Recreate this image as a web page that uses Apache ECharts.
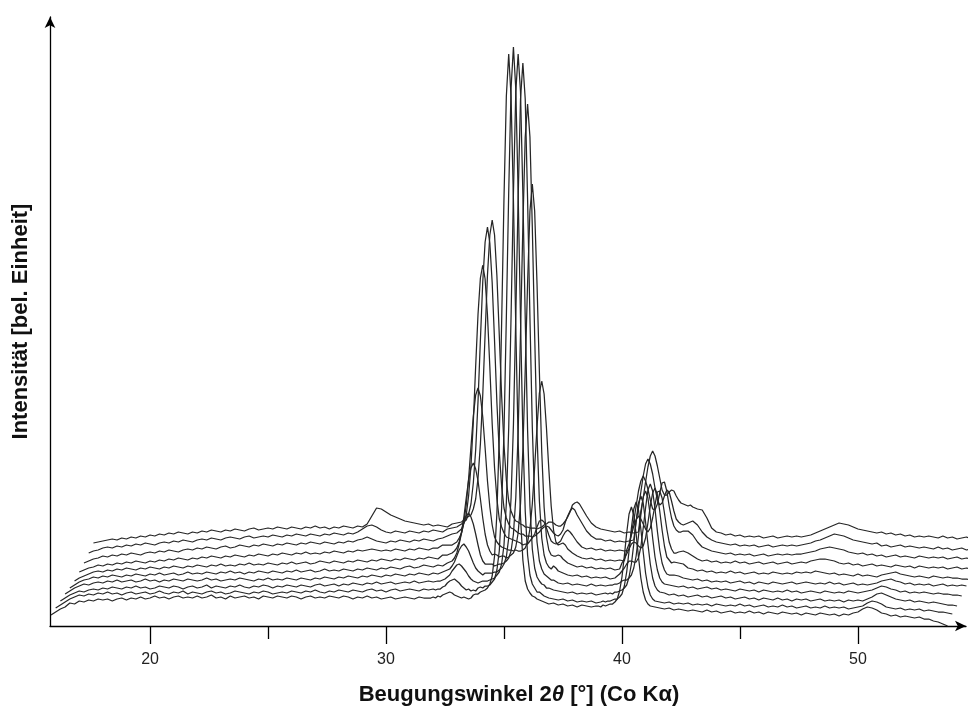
<!DOCTYPE html>
<html>
<head>
<meta charset="utf-8">
<script src="https://cdn.jsdelivr.net/npm/echarts@6/dist/echarts.min.js"></script>
<style>
html,body{margin:0;padding:0;background:#fff;}
#c{width:973px;height:712px;}
</style>
</head>
<body>
<div id="c"></div>
<script>
// 2-theta sample positions (raw, degrees)
const theta1 = [15.8,16,16.2,16.4,16.6,16.8,17,17.2,17.4,17.6,17.8,18,18.2,18.4,18.6,18.8,19,19.2,19.4,19.6,19.8,20,20.2,20.4,20.6,20.8,21,21.2,21.4,21.6,21.8,22,22.2,22.4,22.6,22.8,23,23.2,23.4,23.6,23.8,24,24.2,24.4,24.6,24.8,25,25.2,25.4,25.6,25.8,26,26.2,26.4,26.6,26.8,27,27.2,27.4,27.6,27.8,28,28.2,28.4,28.6,28.8,29,29.2,29.4,29.6,29.8,30,30.2,30.4,30.6,30.8,31,31.2,31.4,31.6,31.8];
const theta2 = [31.9,32,32.1,32.2,32.3,32.4,32.5,32.6,32.7,32.8,32.9,33,33.1,33.2,33.3,33.4,33.5,33.6,33.7,33.8,33.9,34,34.1,34.2,34.3,34.4,34.5,34.6,34.7,34.8,34.9,35,35.1,35.2,35.3,35.4,35.5,35.6,35.7,35.8,35.9,36,36.1,36.2,36.3,36.4,36.5];
const theta3 = [36.7,36.9,37.1,37.3,37.5,37.7,37.9,38.1,38.3,38.5,38.7,38.9];
const theta4 = [39,39.1,39.2,39.3,39.4,39.5,39.6,39.7,39.8,39.9,40,40.1,40.2,40.3,40.4,40.5,40.6,40.7,40.8,40.9,41,41.1,41.2];
const theta5 = [41.4,41.6,41.8,42,42.2,42.4,42.6,42.8,43,43.2,43.4,43.6,43.8,44,44.2,44.4,44.6,44.8,45,45.2,45.4,45.6,45.8,46,46.2,46.4,46.6,46.8,47,47.2,47.4,47.6,47.8,48,48.2,48.4,48.6,48.8,49,49.2,49.4,49.6,49.8,50,50.2,50.4,50.6,50.8,51,51.2,51.4,51.6,51.8,52,52.2,52.4,52.6,52.8,53,53.2,53.4,53.6,53.8];

// waterfall offsets of each pattern (bottom -> top)
const xShift = [0,0.2,0.4,0.6,0.8,1.0,1.2,1.4,1.6,1.8];
const yShift = [0,8,16,24,32,40,48,56,64,72];

// intensities (arbitrary units), bottom pattern first
const pattern0 = [11,14,17,19,23,22,25,24,26,25,27,26,27,25,27,28,26,28,27,29,27,28,30,28,29,27,29,30,28,29,28,30,28,29,31,28,29,27,30,28,29,30,28,29,27,30,29,28,30,29,28,30,29,27,29,30,28,29,28,30,29,28,30,29,27,29,28,30,28,29,27,28,29,27,28,29,28,27,29,28,28,
28,29,28,30,29,31,32,33,34,33,31,30,29,28,29,28,27,28,31,32,32,34,35,36,38,42,50,70,113,189,303,428,530,572,529,426,299,185,109,66,45,37,33,30,29,27,26,
24,22,23,21,22,20,21,19,21,20,19,20,
20,19,21,20,21,22,22,24,27,35,49,70,93,112,119,111,92,69,48,34,26,22,20,
19,18,17,18,16,17,16,15,16,15,14,16,14,15,13,14,15,13,14,13,15,13,14,12,14,13,12,14,13,12,13,11,13,12,11,13,12,11,12,10,12,11,13,14,17,19,18,16,13,12,10,11,9,10,9,8,9,7,7,5,4,2,0];
const pattern1 = [10,13,16,19,21,23,22,24,23,25,24,26,24,25,23,25,26,24,25,26,24,25,27,25,24,26,25,27,24,26,25,24,26,27,25,26,24,25,27,26,25,24,26,25,27,26,24,25,26,25,27,26,25,27,26,28,26,25,27,26,28,27,26,28,27,26,28,29,27,28,26,28,29,27,28,29,28,27,29,28,29,
28,29,29,31,32,35,37,38,39,37,35,32,30,28,29,27,28,27,30,31,30,32,32,33,36,39,48,67,110,186,301,426,530,571,529,425,299,183,107,63,43,34,30,26,26,24,22,
20,19,18,19,17,18,16,17,16,17,15,16,
17,16,17,17,18,19,19,21,24,32,46,67,90,109,116,108,89,66,45,31,23,19,17,
16,15,16,14,15,14,15,13,14,13,14,12,14,13,12,13,12,14,12,13,11,12,13,11,12,11,13,11,12,10,11,12,10,11,10,12,10,11,10,11,9,10,11,12,15,17,16,14,11,10,9,10,8,9,8,9,7,8,7,6,6,5,4];
const pattern2 = [9,12,15,17,19,18,20,21,20,22,21,23,22,21,23,22,24,22,23,21,22,24,23,22,24,23,21,23,24,22,23,25,22,24,23,22,24,23,25,23,22,24,23,25,24,22,24,23,25,24,23,25,24,23,25,26,24,25,26,24,26,25,27,26,25,27,26,28,26,27,28,26,27,28,27,29,27,28,29,28,29,
29,30,31,33,35,39,42,45,46,44,41,38,34,31,29,28,27,28,29,29,29,30,31,32,35,38,46,65,107,182,294,417,518,556,518,416,292,180,104,61,42,33,29,26,25,22,22,
20,19,18,17,18,16,17,16,17,15,16,17,
16,17,16,18,18,19,20,22,25,33,46,66,89,107,114,107,88,66,46,32,24,20,18,
17,15,16,14,15,13,14,15,13,14,12,13,14,12,13,11,12,13,11,12,10,12,11,10,12,10,11,9,11,10,11,9,10,11,9,10,9,10,8,10,9,10,9,11,13,16,17,15,13,11,10,9,10,8,9,8,7,8,7,6,5,5,4];
const pattern3 = [8,11,14,16,18,17,19,20,19,21,20,22,20,21,22,20,21,23,21,22,20,22,21,23,22,21,23,22,21,22,24,22,23,21,22,23,22,24,23,22,21,23,22,24,22,23,22,24,23,22,24,23,22,24,23,25,24,23,25,24,26,25,24,26,25,27,26,25,27,26,28,27,26,28,27,29,28,27,29,28,30,
31,32,33,36,40,46,52,56,58,55,51,45,39,34,31,29,27,29,29,29,29,30,30,32,34,38,45,64,104,177,286,404,503,539,503,403,284,175,101,60,41,33,28,26,24,22,22,
19,18,19,17,18,17,16,18,16,17,16,17,
17,18,18,19,21,22,22,24,27,34,46,66,87,105,111,104,86,64,45,32,24,20,18,
17,16,15,16,14,15,13,14,15,13,14,12,13,12,11,13,12,11,12,10,12,11,10,11,10,12,10,11,9,10,11,10,9,11,10,9,10,9,11,10,9,10,11,12,14,16,15,13,12,10,11,9,10,9,10,9,8,9,8,8,7,7,6];
const pattern4 = [6,9,12,14,15,17,16,18,17,19,18,17,19,18,20,19,18,20,19,21,19,20,21,19,20,22,20,21,20,22,21,20,22,21,23,21,22,20,22,21,23,22,21,23,22,21,23,22,24,22,23,24,22,23,25,23,24,23,25,24,23,25,24,26,25,24,26,25,27,26,25,27,28,26,27,29,28,27,29,28,31,
32,33,36,41,50,61,71,78,81,77,70,60,49,39,33,30,30,30,30,28,29,30,30,31,33,36,43,60,96,162,261,368,457,490,457,367,259,160,93,56,39,31,27,25,28,26,23,
21,19,18,19,17,18,16,17,16,17,15,16,
18,20,23,26,30,33,33,32,32,36,47,66,86,104,110,103,85,63,44,31,24,20,19,
19,18,16,15,14,15,13,14,12,13,12,13,11,12,13,11,12,10,12,11,10,12,11,10,11,12,10,11,12,11,10,11,10,12,10,11,9,10,11,9,10,9,10,11,13,14,15,13,12,10,11,9,10,9,10,8,9,10,8,9,8,9,8];
const pattern5 = [5,8,10,12,14,15,14,16,15,17,16,18,17,16,18,17,19,18,17,19,18,20,19,18,20,19,21,20,19,21,20,22,20,21,20,22,21,23,21,22,21,23,22,21,23,22,24,22,23,24,22,23,25,24,23,25,24,23,25,24,26,25,24,26,25,27,26,25,27,26,28,27,26,28,27,29,28,27,31,31,33,
35,38,44,54,69,88,106,118,123,117,105,87,68,52,41,35,31,32,31,29,30,30,28,29,31,33,39,53,82,136,216,303,375,402,375,302,214,134,79,49,36,31,30,30,31,30,27,
23,21,19,20,18,19,17,18,17,18,16,17,
23,27,32,37,42,44,43,40,38,40,48,63,80,93,98,91,75,56,40,29,26,23,24,
23,22,18,17,15,16,14,15,13,14,13,15,13,14,12,13,14,12,13,12,14,13,12,13,12,14,13,14,13,15,14,13,12,13,11,12,11,10,12,10,11,10,9,11,12,13,14,12,11,10,9,10,9,8,10,9,8,9,8,8,7,7,6];
const pattern6 = [6,8,10,11,13,12,14,13,15,14,16,15,17,16,15,17,16,18,17,19,18,20,19,18,20,19,21,20,22,21,20,22,21,23,22,21,23,22,24,23,22,24,23,25,24,23,25,24,26,24,25,24,26,25,27,26,25,27,26,28,27,28,29,28,27,28,27,29,28,27,29,28,30,29,28,30,30,33,33,33,36,
40,45,56,73,99,131,162,183,190,182,161,130,97,71,53,41,36,33,31,30,29,28,28,27,28,27,27,28,30,36,49,74,111,151,185,197,184,150,109,72,48,36,33,34,35,33,29,
25,22,20,19,20,18,19,17,18,17,18,17,
28,34,43,52,58,62,59,54,49,46,50,60,73,86,87,80,65,49,36,29,25,25,26,
27,25,22,19,17,18,16,17,15,16,15,17,15,16,14,15,16,14,15,16,14,15,16,14,15,16,15,17,18,19,19,18,17,15,14,15,13,14,12,13,14,12,13,12,11,13,12,11,12,10,12,11,10,11,10,11,9,10,11,9,10,9,8];
const pattern7 = [7,9,11,12,14,13,15,14,16,15,17,16,15,17,18,17,19,18,20,19,18,20,21,20,22,21,23,22,21,23,24,22,23,25,24,23,25,24,26,25,24,26,25,27,26,25,27,26,28,27,26,28,27,26,28,27,29,28,30,31,33,31,29,28,27,29,28,30,29,28,30,29,31,30,29,31,32,34,36,37,41,
47,55,74,104,148,204,256,292,305,291,255,203,146,102,71,51,43,37,33,32,31,30,29,28,27,25,26,26,29,32,36,43,49,50,48,42,35,29,27,26,27,29,34,38,40,38,35,
28,23,21,22,20,21,19,20,19,20,19,20,
38,49,64,79,89,94,89,81,70,61,60,66,77,87,88,79,64,52,44,40,38,38,39,
39,35,28,23,21,19,18,17,16,17,15,16,15,16,14,15,16,14,15,16,15,16,15,16,16,17,18,19,21,22,23,22,21,20,18,17,16,17,15,16,14,15,13,14,15,13,14,13,12,14,13,12,13,12,13,11,12,13,11,12,11,10,9];
const pattern8 = [9,11,12,14,15,14,16,15,17,16,18,17,19,18,17,19,20,19,21,20,22,21,20,22,23,22,24,23,22,24,25,24,23,25,26,24,25,26,25,27,26,25,27,26,28,27,26,28,27,26,28,27,29,28,27,29,28,30,33,36,37,35,32,30,29,31,30,29,31,30,29,31,30,32,31,30,33,34,35,38,42,
48,58,79,112,161,222,280,320,335,319,279,221,159,110,76,54,44,38,34,33,31,29,28,28,26,26,26,25,26,28,30,33,35,36,35,32,29,27,26,28,32,40,46,51,54,52,47,
39,31,26,23,23,21,22,20,21,20,21,22,
41,54,70,86,98,103,98,88,74,62,57,59,66,72,70,61,51,43,40,38,37,38,39,
41,37,30,25,22,20,19,18,17,18,16,17,16,17,15,16,17,15,16,17,16,17,16,17,18,19,21,22,24,26,28,27,26,24,22,21,20,19,18,19,16,17,15,16,17,15,16,15,14,15,14,13,15,13,14,12,13,14,12,13,12,11,10];
const pattern9 = [11,12,13,14,15,14,16,15,17,16,18,17,19,18,20,19,21,20,22,21,20,22,21,23,22,24,23,22,24,23,25,24,23,25,26,24,25,26,25,27,26,25,27,26,25,27,26,28,26,27,25,27,26,28,27,26,28,27,30,38,46,45,42,39,37,35,33,32,31,30,29,30,28,29,28,27,30,31,32,36,39,
45,55,76,110,159,220,279,319,334,319,278,219,158,109,74,53,43,37,33,32,30,29,27,27,26,26,26,25,26,27,29,30,32,32,31,29,28,28,30,33,37,42,49,51,52,50,46,
38,31,27,25,24,23,22,23,21,22,21,22,
43,56,72,87,98,103,98,88,76,64,59,59,62,64,63,58,54,51,50,49,48,49,47,
45,44,36,26,22,21,19,20,18,19,17,18,17,18,16,17,18,16,17,18,17,18,17,18,19,21,23,25,27,29,31,30,29,27,25,24,23,22,21,22,20,21,19,20,18,19,17,18,17,18,17,16,18,16,17,15,16,17,15,16,15,14,13];

const patterns = [pattern0,pattern1,pattern2,pattern3,pattern4,pattern5,pattern6,pattern7,pattern8,pattern9];

const majorTicks = [20,30,40,50];
const minorTicks = [25,35,45];

const theta = theta1.concat(theta2, theta3, theta4, theta5);
patterns.forEach((p,k)=>{ if(p.length!==theta.length) console.error('pattern'+k+' length '+p.length+' vs '+theta.length); });

const FONT = '"Liberation Sans", Arial, Helvetica, sans-serif';
const X_MIN = 15.76, X_MAX = 54.58, Y_MIN = 0, Y_MAX = 609;

const series = patterns.map((p,k)=>({
  type:'line',
  data: theta.map((t,i)=>[t + xShift[k], p[i] + yShift[k]]),
  showSymbol:false, symbol:'none', clip:false, silent:true,
  lineStyle:{color:'#262626', width:1.25},
  z: 2
}));

const chart = echarts.init(document.getElementById('c'), null, {renderer:'canvas'});
chart.setOption({
  animation:false,
  backgroundColor:'#ffffff',
  grid:{left:50, right:7, top:17, bottom:86, containLabel:false},
  xAxis:[{
    type:'value', min:X_MIN, max:X_MAX, position:'bottom',
    axisLine:{show:true, onZero:false, lineStyle:{color:'#000', width:1.3}, symbol:['none','arrow'], symbolSize:[8,11]},
    axisTick:{show:true, customValues:majorTicks, length:18, inside:false, lineStyle:{color:'#000', width:1.3}},
    axisLabel:{show:true, customValues:majorTicks, margin:26, fontSize:16, color:'#222', fontFamily:FONT},
    splitLine:{show:false},
    name:'Beugungswinkel 2{it|θ} [°] (Co Kα)',
    nameLocation:'middle', nameGap:58,
    nameTextStyle:{fontSize:22, fontWeight:'bold', color:'#111', fontFamily:FONT, padding:[0,0,0,22],
      rich:{it:{fontSize:22, fontWeight:'bold', fontStyle:'italic', color:'#111', fontFamily:FONT}}}
  },{
    type:'value', min:X_MIN, max:X_MAX, position:'bottom',
    axisLine:{show:false, onZero:false},
    axisTick:{show:true, customValues:minorTicks, length:13, inside:false, lineStyle:{color:'#000', width:1.3}},
    axisLabel:{show:false},
    splitLine:{show:false}
  }],
  yAxis:{
    type:'value', min:Y_MIN, max:Y_MAX,
    axisLine:{show:true, onZero:false, lineStyle:{color:'#000', width:1.3}, symbol:['none','arrow'], symbolSize:[8,11]},
    axisTick:{show:false}, axisLabel:{show:false}, splitLine:{show:false},
    name:'Intensität [bel. Einheit]', nameLocation:'middle', nameGap:18, nameRotate:90,
    nameTextStyle:{fontSize:22, fontWeight:'bold', color:'#111', fontFamily:FONT}
  },
  series: series
});
</script>
</body>
</html>
